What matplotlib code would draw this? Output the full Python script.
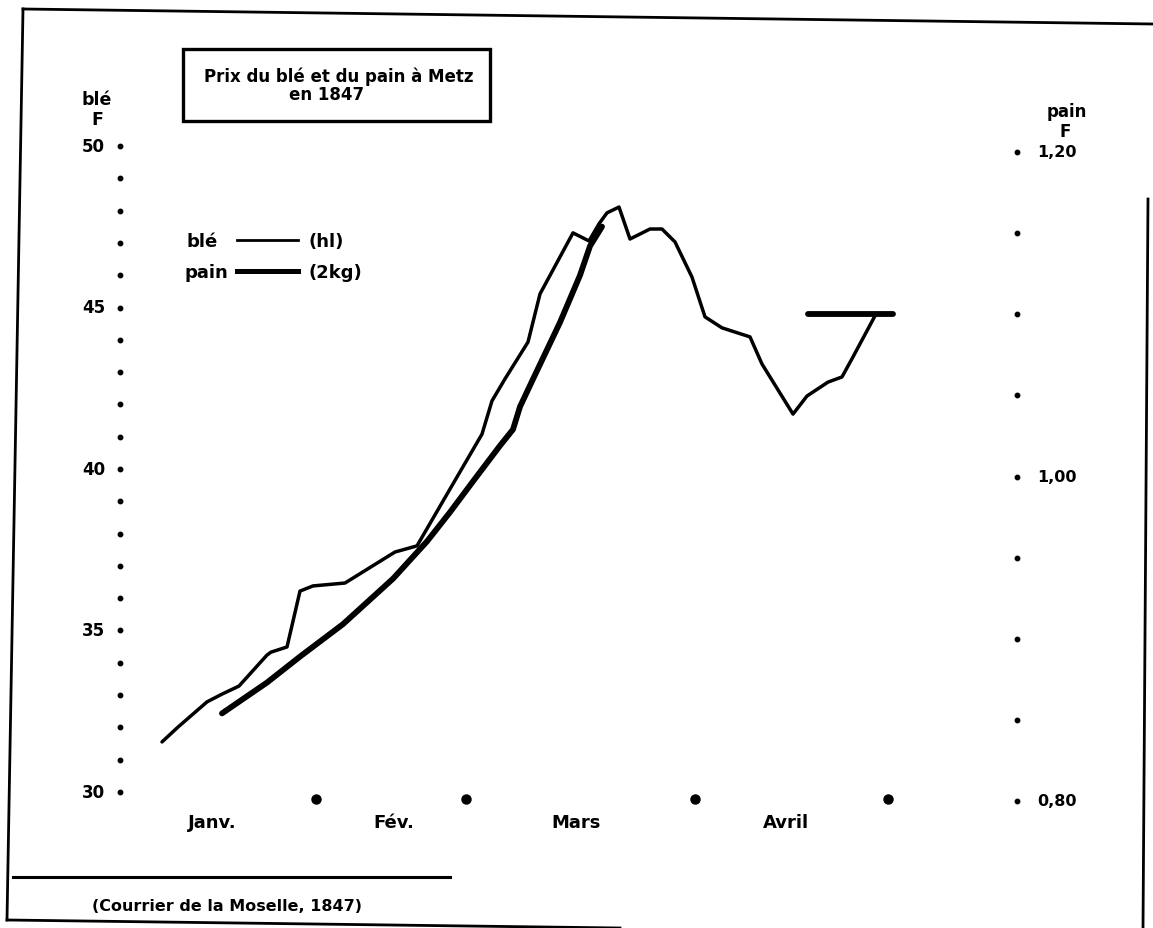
import matplotlib
matplotlib.use("Agg")
import matplotlib.pyplot as plt
from matplotlib.lines import Line2D
from matplotlib.patches import Rectangle

W, H = 1153, 929

# prix du blé (F par hl), position le long de l'axe du temps
ble_x = [4.2, 5.8, 8.7, 10.2, 11.9, 14.7, 15.1, 16.7, 18.0, 19.3, 22.5, 27.5, 29.7,
         33.0, 36.2, 37.2, 38.5, 40.8, 42.0, 45.3, 46.9, 47.9, 48.7, 49.9, 51.0, 53.0,
         54.2, 55.5, 57.2, 58.5, 60.2, 63.0, 64.2, 67.3, 68.7, 70.8, 72.2, 73.3, 75.6]
ble_y = [31.55, 32.01, 32.79, 33.03, 33.28, 34.24, 34.33, 34.49, 36.22, 36.38, 36.47,
         37.43, 37.62, 39.38, 41.08, 42.11, 42.79, 43.93, 45.42, 47.31, 47.06, 47.59,
         47.93, 48.11, 47.12, 47.43, 47.43, 47.03, 45.94, 44.71, 44.37, 44.09, 43.25,
         41.70, 42.26, 42.69, 42.85, 43.47, 44.80]

# prix du pain (F les 2 kg)
pain_x = [10.2, 14.7, 18.0, 22.3, 27.3, 30.7, 33.0, 35.3, 38.0, 39.3, 40.0, 41.3,
          44.0, 46.0, 47.0, 48.2]
pain_y = [0.854, 0.873, 0.889, 0.909, 0.937, 0.960, 0.978, 0.997, 1.019, 1.029,
          1.043, 1.060, 1.095, 1.124, 1.142, 1.154]
pain2_x = [68.8, 77.3]
pain2_y = [1.10, 1.10]

months = ["Janv.", "Fév.", "Mars", "Avril"]
month_label_x = [9.2, 27.4, 45.6, 66.6]
month_end_x = [19.6, 34.6, 57.5, 76.8]

ble_ticks = list(range(30, 51))
ble_labels = ["30", "35", "40", "45", "50"]
pain_ticks = [0.80, 0.85, 0.90, 0.95, 1.00, 1.05, 1.10, 1.15, 1.20]
pain_labels = ["0,80", "1,00", "1,20"]

XMAX = 89.7
plt.rcParams["font.family"] = ["DejaVu Sans"]
plt.rcParams["font.weight"] = "bold"


def fx(px):
    return px / W


def fy(py):
    return 1 - py / H


fig = plt.figure(figsize=(W / 100, H / 100), dpi=100)
fig.patch.set_facecolor("white")

ax = fig.add_axes([fx(120), fy(793), (1017 - 120) / W, (793 - 147) / H])
ax2 = fig.add_axes([fx(120), fy(802), (1017 - 120) / W, (802 - 153) / H])
ax2.patch.set_visible(False)
for a in (ax, ax2):
    a.set_xlim(0, XMAX)
    for s in a.spines.values():
        s.set_visible(False)
    a.set_xticks([])
    a.set_yticks([])
ax.set_ylim(30, 50)
ax2.set_ylim(0.80, 1.20)

# courbes
ax.plot(ble_x, ble_y, color="black", lw=2.5, solid_capstyle="round", solid_joinstyle="round")
ax2.plot(pain_x, pain_y, color="black", lw=4.2, solid_capstyle="round", solid_joinstyle="round")
ax2.plot(pain2_x, pain2_y, color="black", lw=4.2, solid_capstyle="round")

# axes en pointillés
ax.plot([0] * len(ble_ticks), ble_ticks, "o", color="black", ms=3.2, clip_on=False)
for v, lab in zip([30, 35, 40, 45, 50], ble_labels):
    ax.annotate(lab, (0, v), xytext=(-15, 0), textcoords="offset pixels",
                ha="right", va="center", fontsize=12, fontweight="bold")
ax2.plot([XMAX] * len(pain_ticks), pain_ticks, "o", color="black", ms=3.2, clip_on=False)
for v, lab in zip([0.80, 1.00, 1.20], pain_labels):
    ax2.annotate(lab, (XMAX, v), xytext=(20, 0), textcoords="offset pixels",
                 ha="left", va="center", fontsize=11.5, fontweight="bold")

# mois
xt = ax.get_xaxis_transform()
ax.plot(month_end_x, [-0.011] * len(month_end_x), "o", color="black", ms=6.5,
        transform=xt, clip_on=False)
for m, x in zip(months, month_label_x):
    ax.text(x, -0.047, m, transform=xt, ha="center", va="center",
            fontsize=13, fontweight="bold")

# titres des axes
fig.text(fx(97), fy(100), "blé", ha="center", va="center", fontsize=12.5)
fig.text(fx(97), fy(120), "F", ha="center", va="center", fontsize=12.5)
fig.text(fx(1067), fy(112), "pain", ha="center", va="center", fontsize=12)
fig.text(fx(1065), fy(132), "F", ha="center", va="center", fontsize=12)

# cadre du titre
fig.patches.append(Rectangle((fx(183), fy(122)), (490 - 183) / W, (122 - 50) / H,
                             transform=fig.transFigure, fill=False, ec="black", lw=2.4))
fig.text(fx(339), fy(77), "Prix du blé et du pain à Metz", ha="center", va="center",
         fontsize=12, fontweight="heavy")
fig.text(fx(327), fy(95), "en 1847", ha="center", va="center",
         fontsize=12, fontweight="heavy")

# légende
fig.text(fx(187), fy(242), "blé", ha="left", va="center", fontsize=13)
fig.text(fx(185), fy(273), "pain", ha="left", va="center", fontsize=13)
fig.lines.append(Line2D([fx(237), fx(298)], [fy(241), fy(241)], transform=fig.transFigure,
                        color="black", lw=2.0))
fig.lines.append(Line2D([fx(237), fx(298)], [fy(272), fy(272)], transform=fig.transFigure,
                        color="black", lw=3.6))
fig.text(fx(308), fy(242), "(hl)", ha="left", va="center", fontsize=13)
fig.text(fx(308), fy(273), "(2kg)", ha="left", va="center", fontsize=13)

# source
fig.lines.append(Line2D([fx(13), fx(450)], [fy(878), fy(878)], transform=fig.transFigure,
                        color="black", lw=2.2))
fig.text(fx(92), fy(907), "(Courrier de la Moselle, 1847)", ha="left", va="center",
         fontsize=11.5)

# cadre de la page
frame = [([23, 1153], [10, 25]), ([23, 7], [10, 921]), ([7, 620], [921, 929]),
         ([1148, 1143], [200, 929])]
for xs, ys in frame:
    fig.lines.append(Line2D([fx(v) for v in xs], [fy(v) for v in ys],
                            transform=fig.transFigure, color="black", lw=2.0))

fig.savefig("out.png", dpi=100, facecolor="white")
